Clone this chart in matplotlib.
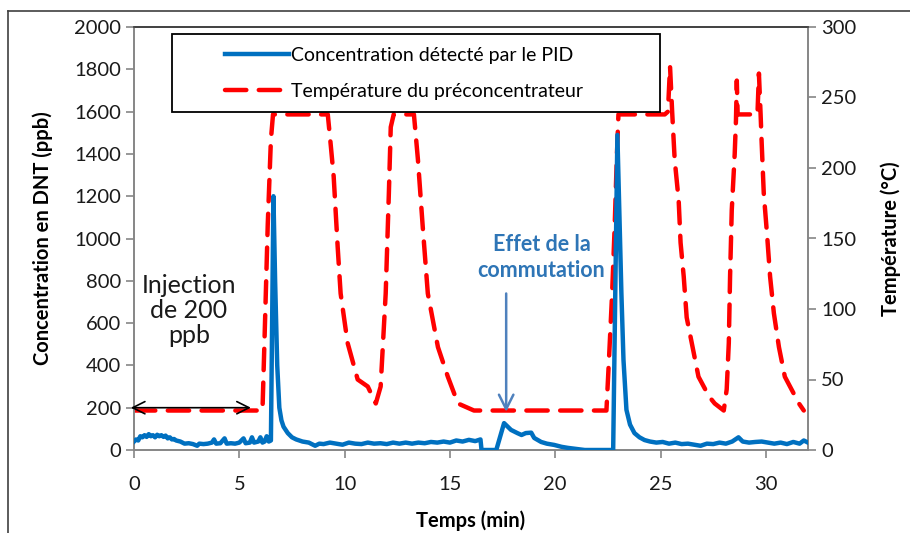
import matplotlib
matplotlib.use("Agg")
import matplotlib.pyplot as plt
from matplotlib.lines import Line2D
from matplotlib.patches import Rectangle

plt.rcParams['font.family'] = ['Lato', 'DejaVu Sans']

# Concentration detected by the PID (ppb) vs time (min)
conc_t = [0.0, 0.1, 0.2, 0.3, 0.4, 0.5, 0.6, 0.7, 0.8, 0.9, 1.0, 1.1, 1.2, 1.3, 1.4, 1.5,
          1.6, 1.7, 1.8, 1.9, 2.0, 2.2, 2.4, 2.6, 2.8, 3.0, 3.1, 3.3, 3.5, 3.7, 3.8, 3.9,
          4.1, 4.3, 4.4, 4.6, 4.8, 5.0, 5.2, 5.3, 5.5, 5.6, 5.7, 5.9, 6.0, 6.1, 6.2, 6.3,
          6.4, 6.5, 6.62, 6.7, 6.8, 6.9, 7.0, 7.1, 7.3, 7.5, 7.7, 8.0, 8.3, 8.6, 8.8, 9.0,
          9.3, 9.6, 9.9, 10.2, 10.5, 10.8, 11.1, 11.4, 11.7, 12.0, 12.3, 12.6, 12.9, 13.2,
          13.5, 13.8, 14.1, 14.4, 14.7, 15.0, 15.3, 15.6, 15.9, 16.2, 16.45, 16.5, 17.2,
          17.57, 17.9, 18.2, 18.4, 18.6, 18.86, 19.0, 19.33, 19.6, 19.95, 20.3, 20.6, 21.0,
          21.4, 22.75, 22.95, 23.14, 23.24, 23.38, 23.55, 23.76, 24.0, 24.24, 24.5, 24.8,
          25.1, 25.4, 25.7, 26.0, 26.3, 26.6, 26.9, 27.2, 27.5, 27.8, 28.1, 28.4, 28.7,
          28.9, 29.2, 29.5, 29.8, 30.1, 30.4, 30.7, 31.0, 31.3, 31.6, 31.8, 32.0]
conc_v = [40, 50, 45, 65, 60, 70, 62, 75, 65, 70, 60, 72, 65, 70, 62, 68,
          55, 60, 50, 52, 45, 40, 30, 32, 28, 20, 30, 28, 30, 35, 50, 30,
          32, 55, 30, 32, 30, 35, 55, 32, 35, 60, 35, 40, 60, 35, 40, 65,
          40, 45, 1200, 800, 400, 200, 140, 110, 80, 60, 50, 40, 35, 20, 30, 28,
          35, 30, 25, 35, 30, 28, 35, 30, 32, 28, 35, 30, 35, 30,
          35, 32, 38, 35, 40, 35, 45, 40, 48, 42, 50, 0, 0,
          127, 95, 80, 71, 80, 82, 57, 38, 30, 24, 15, 10, 5,
          0, 0, 1490, 742, 425, 190, 120, 80, 60, 47, 40, 35,
          38, 30, 35, 28, 30, 25, 20, 30, 28, 35, 30, 40, 60,
          40, 35, 38, 40, 35, 30, 35, 28, 38, 30, 45, 35]

# Preconcentrator temperature (°C) vs time (min)
temp_t = [0.0, 6.1, 6.2, 6.35, 6.5, 6.6, 9.2, 9.33, 9.48, 9.67, 9.81, 10.14, 10.62, 11.1,
          11.48, 11.71, 11.95, 12.1, 12.19, 12.33, 13.29, 13.48, 13.71, 13.95, 14.43, 14.9,
          15.38, 16.14, 22.43, 22.55, 22.7, 22.82, 22.92, 23.0, 25.2, 25.35, 25.45, 25.55,
          25.67, 25.86, 25.95, 26.1, 26.24, 26.48, 26.8, 27.05, 27.3, 27.57, 28.0, 28.14,
          28.24, 28.3, 28.38, 28.52, 28.58, 28.62, 28.66, 29.6, 29.67, 29.75, 29.8, 29.9,
          30.05, 30.2, 30.38, 30.62, 30.9, 31.57, 31.8]
temp_v = [28, 28, 80, 160, 220, 238, 238, 218, 194, 144, 111, 76, 50, 45,
          33, 45, 111, 182, 229, 238, 238, 206, 158, 111, 73, 52,
          33, 28, 28, 64, 111, 158, 206, 238, 238, 240, 272, 240,
          206, 177, 147, 123, 94, 76, 52, 45, 38, 33, 28, 43,
          76, 123, 170, 210, 234, 262, 238, 238, 267, 238, 218, 182,
          154, 123, 97, 73, 52, 33, 28]

x_ticks = [0, 5, 10, 15, 20, 25, 30]
left_ticks = [0, 200, 400, 600, 800, 1000, 1200, 1400, 1600, 1800, 2000]
right_ticks = [0, 50, 100, 150, 200, 250, 300]

W, H = 910, 533
fig = plt.figure(figsize=(W / 100, H / 100), dpi=100)
ax = fig.add_axes([134 / W, 1 - 450 / H, (808 - 134) / W, (450 - 27) / H])
ax2 = ax.twinx()

blue = '#0070C0'
red = '#FF0000'
gray = '#868686'

l1, = ax.plot(conc_t, conc_v, color=blue, lw=3.2, solid_joinstyle='round', zorder=3,
              label='Concentration détecté par le PID')
l2, = ax2.plot(temp_t, temp_v, color=red, lw=3.2, dashes=(4.8, 2.8), dash_capstyle='round',
               label='Température du préconcentrateur')
ax.set_zorder(ax2.get_zorder() + 1)
ax.patch.set_visible(False)

ax.set_xlim(0, 32)
ax.set_ylim(0, 2000)
ax2.set_ylim(0, 300)
ax.set_xticks(x_ticks)
ax.set_yticks(left_ticks)
ax2.set_yticks(right_ticks)

for a in (ax, ax2):
    for s in a.spines.values():
        s.set_color(gray)
        s.set_linewidth(1.2)
    a.spines['top'].set_color('#404040')
ax.tick_params(axis='both', colors=gray, labelcolor='#1a1a1a', labelsize=14.5, length=6, width=1.2)
ax2.tick_params(axis='y', colors=gray, labelcolor='#1a1a1a', labelsize=14.5, length=6, width=1.2)
ax.tick_params(axis='x', pad=13)

ax.set_xlabel('Temps (min)', fontsize=14.5, fontweight='bold', labelpad=12)
ax.set_ylabel('Concentration en DNT (ppb)', fontsize=14.5, fontweight='bold', labelpad=15)
ax2.set_ylabel('Température (°C)', fontsize=14.5, fontweight='bold', labelpad=17)

# legend frame drawn separately (wide box with right padding, as in the reference)
ax.add_patch(Rectangle(((172 - 134) / (808 - 134), (450 - 112) / (450 - 27)),
                       (660 - 172) / (808 - 134), (112 - 34) / (450 - 27),
                       transform=ax.transAxes, facecolor='white', edgecolor='black',
                       lw=1.3, zorder=4, clip_on=False))
leg = ax.legend(handles=[l1, l2], loc='upper left',
                bbox_to_anchor=((218 - 134) / (808 - 134), (450 - 40) / (450 - 27)),
                fontsize=14, frameon=False,
                handlelength=3.3, handletextpad=0.1, borderpad=0.35, labelspacing=1.0,
                borderaxespad=0)
leg.set_zorder(5)

ax.text(2.6, 660, 'Injection\nde 200\nppb', fontsize=18, ha='center', va='center',
        color='#1a1a1a', linespacing=1.12)
ax.annotate('', xy=(-0.15, 200), xytext=(5.55, 200),
            arrowprops=dict(arrowstyle='<->', color='black', lw=1.2, mutation_scale=22,
                            shrinkA=0, shrinkB=0), annotation_clip=False)

ax.text(19.35, 910, 'Effet de la\ncommutation', fontsize=15.5, fontweight='bold',
        ha='center', va='center', color='#2E75B6', linespacing=1.25, zorder=2)
ax.annotate('', xy=(17.67, 180), xytext=(17.67, 740),
            arrowprops=dict(arrowstyle='->', color='#4F81BD', lw=1.8, mutation_scale=26,
                            shrinkA=0, shrinkB=0))

# outer chart border
fig.add_artist(Line2D([8 / W, 8 / W], [0, 1 - 11 / H], color='#404040', lw=1.2))
fig.add_artist(Line2D([8 / W, 1], [1 - 11 / H, 1 - 11 / H], color='#404040', lw=1.2))

fig.savefig('out.png', dpi=100)
